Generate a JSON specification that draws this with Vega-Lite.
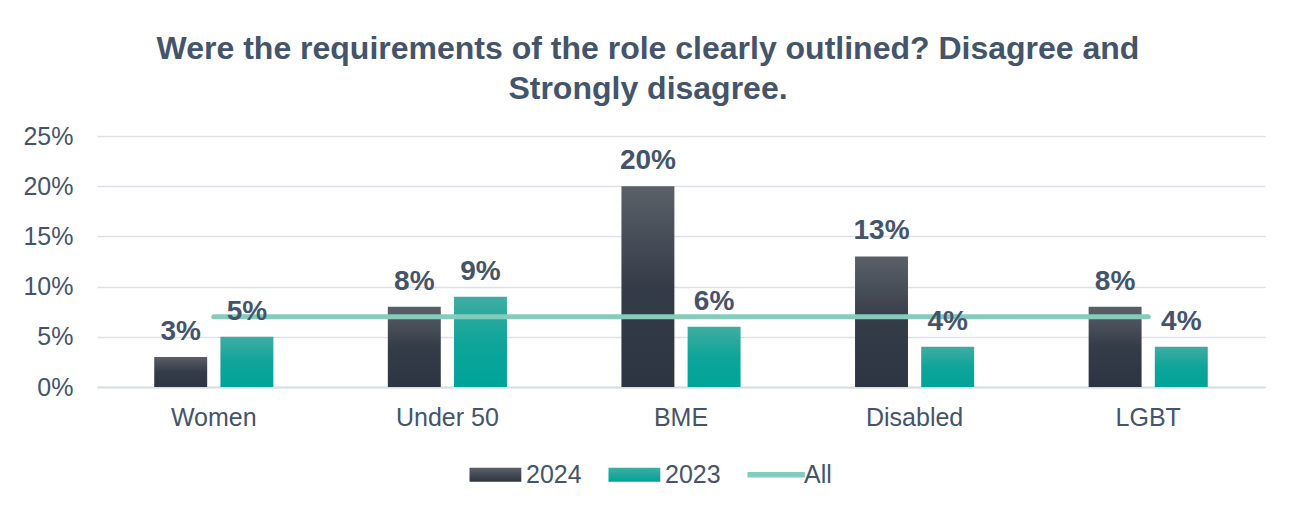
{
  "$schema": "https://vega.github.io/schema/vega-lite/v6.json",
  "width": 1168,
  "height": 251,
  "autosize": "none",
  "padding": {"left": 97, "top": 136, "right": 28, "bottom": 119},
  "background": "white",
  "title": {
    "text": ["Were the requirements of the role clearly outlined? Disagree and", "Strongly disagree."],
    "font": "Liberation Sans",
    "fontSize": 32,
    "fontWeight": "bold",
    "color": "#44546a",
    "lineHeight": 40,
    "anchor": "middle",
    "dx": -33,
    "offset": 18
  },
  "config": {
    "view": {"stroke": null},
    "font": "Liberation Sans"
  },
  "datasets": {
    "bars": [
      {"group": "Women", "year": "2024", "value": 0.03},
      {"group": "Women", "year": "2023", "value": 0.05},
      {"group": "Under 50", "year": "2024", "value": 0.08},
      {"group": "Under 50", "year": "2023", "value": 0.09},
      {"group": "BME", "year": "2024", "value": 0.20},
      {"group": "BME", "year": "2023", "value": 0.06},
      {"group": "Disabled", "year": "2024", "value": 0.13},
      {"group": "Disabled", "year": "2023", "value": 0.04},
      {"group": "LGBT", "year": "2024", "value": 0.08},
      {"group": "LGBT", "year": "2023", "value": 0.04}
    ],
    "all": [
      {"group": "Women", "value": 0.07},
      {"group": "Under 50", "value": 0.07},
      {"group": "BME", "value": 0.07},
      {"group": "Disabled", "value": 0.07},
      {"group": "LGBT", "value": 0.07}
    ]
  },
  "encoding": {
    "x": {
      "field": "group",
      "type": "nominal",
      "sort": ["Women", "Under 50", "BME", "Disabled", "LGBT"],
      "scale": {"paddingInner": 0.49, "paddingOuter": 0.245},
      "axis": {
        "title": null,
        "labelAngle": 0,
        "labelFontSize": 25,
        "labelColor": "#44546a",
        "labelPadding": 18,
        "ticks": false,
        "domainColor": "#d9dde3",
        "domainWidth": 2,
        "grid": false
      }
    },
    "y": {
      "field": "value",
      "type": "quantitative",
      "scale": {"domain": [0, 0.25]},
      "axis": {
        "title": null,
        "values": [0, 0.05, 0.1, 0.15, 0.2, 0.25],
        "format": ".0%",
        "labelFontSize": 25,
        "labelColor": "#44546a",
        "labelPadding": 24,
        "ticks": false,
        "domain": false,
        "gridColor": "#dde1e7",
        "gridWidth": 1.5
      }
    }
  },
  "layer": [
    {
      "data": {"name": "bars"},
      "mark": {"type": "bar"},
      "encoding": {
        "xOffset": {
          "field": "year",
          "type": "nominal",
          "sort": ["2024", "2023"],
          "scale": {"paddingInner": 0.2, "paddingOuter": 0}
        },
        "fill": {
          "condition": {
            "test": "datum.year === '2024'",
            "value": {"gradient": "linear", "x1": 0, "y1": 0, "x2": 0, "y2": 1, "stops": [{"offset": 0, "color": "#5b6068"}, {"offset": 0.5, "color": "#343c48"}, {"offset": 1, "color": "#2c3541"}]}
          },
          "value": {"gradient": "linear", "x1": 0, "y1": 0, "x2": 0, "y2": 1, "stops": [{"offset": 0, "color": "#40aca2"}, {"offset": 0.5, "color": "#0ea59a"}, {"offset": 1, "color": "#00a398"}]}
        }
      }
    },
    {
      "data": {"name": "all"},
      "mark": {"type": "line", "strokeWidth": 5, "strokeCap": "round"},
      "encoding": {
        "color": {
          "datum": "All",
          "type": "nominal",
          "scale": {"domain": ["2024", "2023", "All"], "range": ["#3a424d", "#00a398", "#84ccbc"]},
          "legend": {
            "title": null,
            "orient": "none",
            "direction": "horizontal",
            "legendX": 367,
            "legendY": 326,
            "labelFontSize": 25,
            "labelColor": "#44546a",
            "labelFont": "Liberation Sans",
            "symbolSize": 196,
            "labelOffset": 37,
            "columnPadding": 21,
            "encode": {
              "symbols": {
                "update": {
                  "shape": {"signal": "datum.value === 'All' ? 'M-1,-0.4H7.2V0.4H-1Z' : 'M-1,-1H6.4V1H-1Z'"},
                  "fill": {"signal": "datum.value === '2024' ? {gradient: 'linear', x1: 0, y1: 0, x2: 0, y2: 1, stops: [{offset: 0, color: '#5b6068'}, {offset: 1, color: '#2c3541'}]} : datum.value === '2023' ? {gradient: 'linear', x1: 0, y1: 0, x2: 0, y2: 1, stops: [{offset: 0, color: '#40aca2'}, {offset: 1, color: '#00a398'}]} : '#84ccbc'"},
                  "stroke": {"value": "transparent"},
                  "strokeWidth": {"value": 0},
                  "opacity": {"value": 1}
                }
              }
            }
          }
        }
      }
    },
    {
      "data": {"name": "bars"},
      "mark": {"type": "text", "fontSize": 28, "fontWeight": "bold", "color": "#44546a", "baseline": "alphabetic", "dy": -17},
      "encoding": {
        "xOffset": {"field": "year", "type": "nominal", "sort": ["2024", "2023"]},
        "text": {"field": "value", "type": "quantitative", "format": ".0%"}
      }
    }
  ]
}
